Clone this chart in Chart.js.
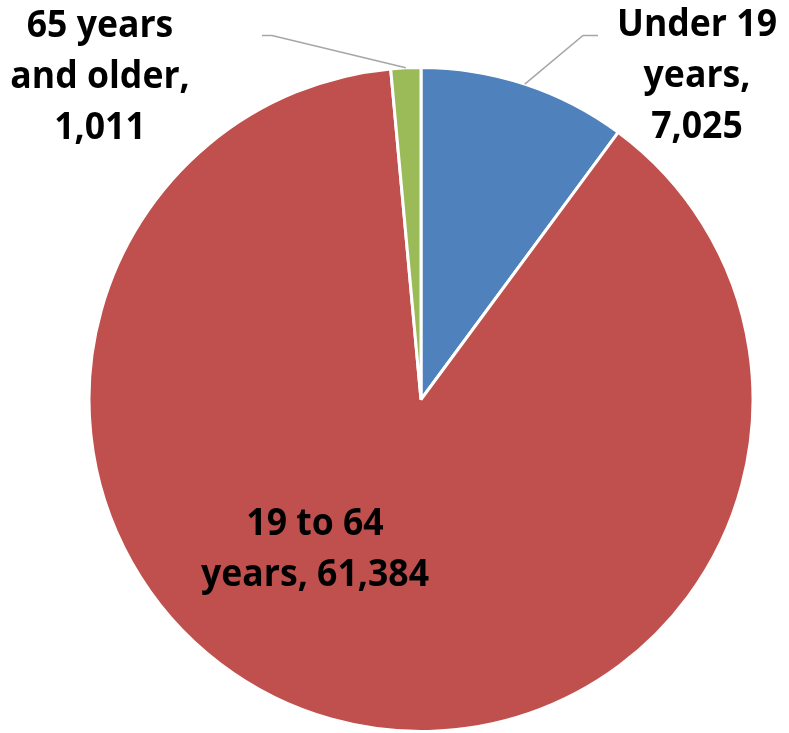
<!DOCTYPE html>
<html><head><meta charset="utf-8">
<script src="https://cdn.jsdelivr.net/npm/chart.js@4"></script>
<style>html,body{margin:0;padding:0;background:#fff}#wrap{width:789px;height:733px}</style>
</head><body><div id="wrap"><canvas id="c"></canvas></div>
<script>
const categories = ["Under 19 years", "19 to 64 years", "65 years and older"];
const values = [7025, 61384, 1011];
const colors = ["#4F81BD", "#C0504D", "#9BBB59"];
const labelLines = [["Under 19", "years,", "7,025"], ["19 to 64", "years, 61,384"], ["65 years", "and older,", "1,011"]];

const labelPlugin = {
  id: "pieLabels",
  afterDatasetsDraw(chart) {
    const ctx = chart.ctx;
    const meta = chart.getDatasetMeta(0);
    ctx.save();
    ctx.font = "bold 37px 'Open Sans'";
    ctx.fillStyle = "#000";
    ctx.textAlign = "center";
    ctx.textBaseline = "alphabetic";
    const sx = 160 / ctx.measureText("Under 19").width;
    const drawLines = (lines, cx, cy, lh) => {
      lines.forEach((t, i) => {
        ctx.save();
        ctx.translate(cx, cy + i * lh);
        ctx.scale(sx, 1);
        ctx.fillText(t, 0, 0);
        ctx.restore();
      });
    };
    const arc0 = meta.data[0];
    const {x: cx, y: cy, outerRadius: r} = arc0.getProps(["x","y","outerRadius"], true);
    ctx.strokeStyle = "#A6A6A6";
    ctx.lineWidth = 1.5;
    [0, 2].forEach(i => {
      const a = meta.data[i];
      const mid = (a.startAngle + a.endAngle) / 2;
      const px = cx + Math.cos(mid) * r, py = cy + Math.sin(mid) * r;
      ctx.beginPath();
      ctx.moveTo(px, py);
      if (i === 0) { ctx.lineTo(cx + 162, cy - 364); ctx.lineTo(cx + 177, cy - 364); }
      else { ctx.lineTo(cx - 149, cy - 364); ctx.lineTo(cx - 159, cy - 364); }
      ctx.stroke();
    });
    drawLines(labelLines[0], cx + 276, cy - 364, 51);
    drawLines(labelLines[2], cx - 321, cy - 363, 51);
    drawLines(labelLines[1], cx - 106, cy + 135, 51);
    ctx.restore();
  }
};

new Chart(document.getElementById("c"), {
  type: "pie",
  data: {
    labels: categories,
    datasets: [{ data: values, backgroundColor: colors, borderColor: "#fff", borderWidth: 3 }]
  },
  options: {
    responsive: true,
    maintainAspectRatio: false,
    animation: false,
    layout: { padding: { top: 66, bottom: 0, left: 53, right: 0 } },
    plugins: { legend: { display: false }, tooltip: { enabled: false } }
  },
  plugins: [labelPlugin]
});
</script></body></html>
